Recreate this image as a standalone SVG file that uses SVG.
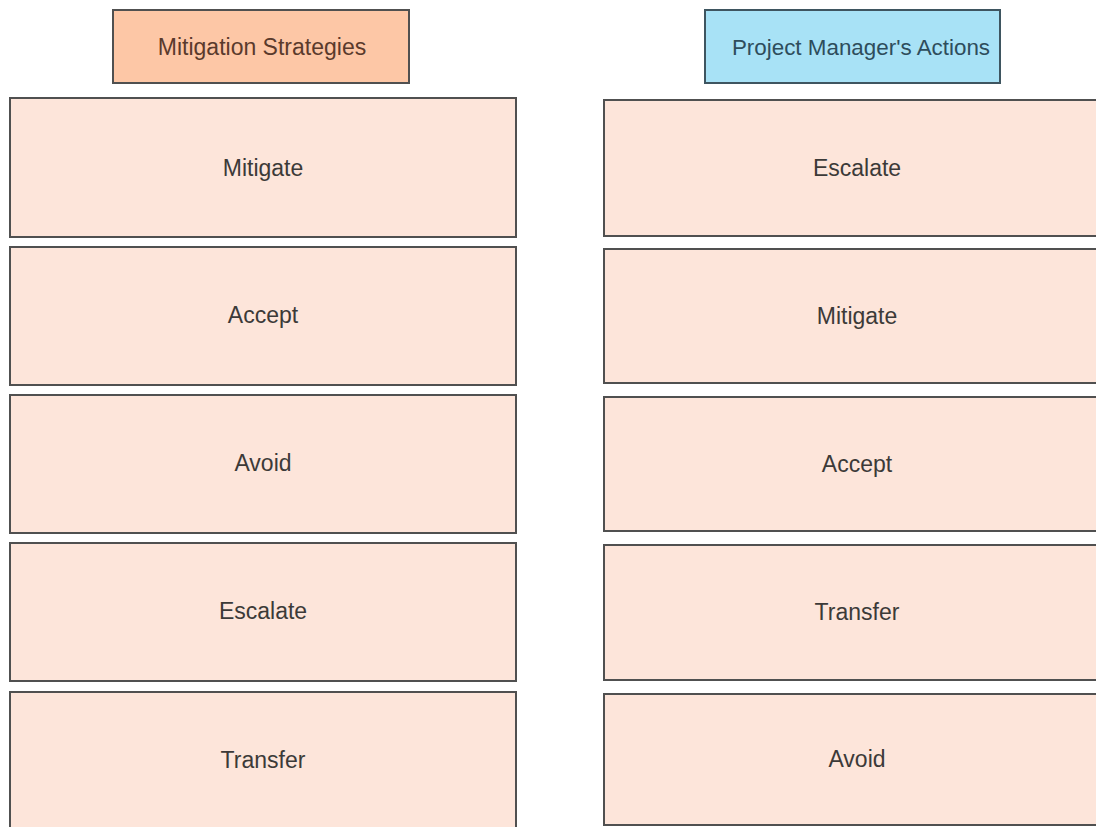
<svg xmlns="http://www.w3.org/2000/svg" width="1096" height="827" viewBox="0 0 1096 827">
<style>
.box{fill:#fde5da;stroke:#505050;stroke-width:2}
.hl{fill:#fdc7a6;stroke:#505050;stroke-width:2}
.hr{fill:#a8e2f6;stroke:#3e5560;stroke-width:2}
text{font-family:"Liberation Sans",Arial,sans-serif;font-size:23px;fill:#3c3a38;text-anchor:middle;dominant-baseline:central}
.ht{fill:#5a3a2c}
.htb{fill:#2e4d5c;font-size:22.4px}
</style>
<rect width="1096" height="827" fill="#ffffff"/>
<g id="header-left"><rect class="hl" x="113" y="10" width="296" height="73"/><text class="ht" x="262" y="47">Mitigation Strategies</text></g>
<g id="header-right"><rect class="hr" x="705" y="10" width="295" height="73"/><text class="htb" x="861" y="47">Project Manager's Actions</text></g>
<g id="l1"><rect class="box" x="10" y="98" width="506" height="139"/><text x="263" y="168">Mitigate</text></g>
<g id="l2"><rect class="box" x="10" y="247" width="506" height="138"/><text x="263" y="315">Accept</text></g>
<g id="l3"><rect class="box" x="10" y="395" width="506" height="138"/><text x="263" y="463">Avoid</text></g>
<g id="l4"><rect class="box" x="10" y="543" width="506" height="138"/><text x="263" y="611">Escalate</text></g>
<g id="l5"><rect class="box" x="10" y="692" width="506" height="140"/><text x="263" y="760">Transfer</text></g>
<g id="r1"><rect class="box" x="604" y="100" width="510" height="136"/><text x="857" y="168">Escalate</text></g>
<g id="r2"><rect class="box" x="604" y="249" width="510" height="134"/><text x="857" y="316">Mitigate</text></g>
<g id="r3"><rect class="box" x="604" y="397" width="510" height="134"/><text x="857" y="464">Accept</text></g>
<g id="r4"><rect class="box" x="604" y="545" width="510" height="135"/><text x="857" y="612">Transfer</text></g>
<g id="r5"><rect class="box" x="604" y="694" width="510" height="131"/><text x="857" y="759">Avoid</text></g>
<g id="connectors"/>
</svg>
